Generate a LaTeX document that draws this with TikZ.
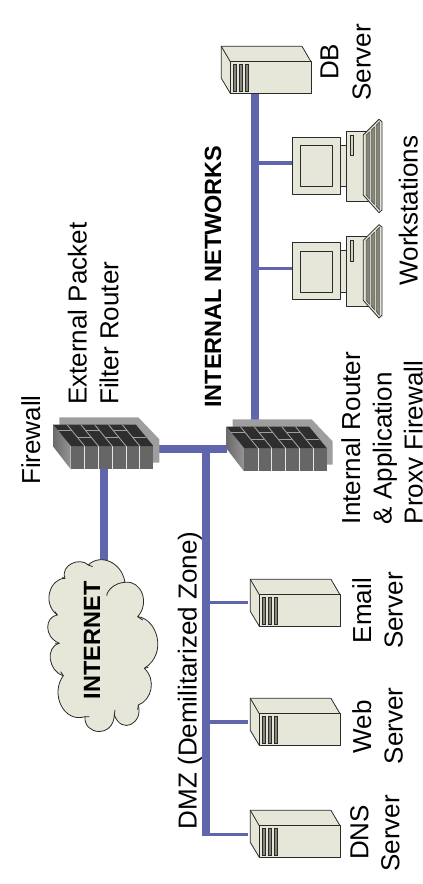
\documentclass[tikz,border=0pt]{standalone}
\usepackage{fontspec}
\setmainfont{Liberation Sans}
\definecolor{netblue}{HTML}{6066AE}
\definecolor{cream}{HTML}{E6E7D8}
\definecolor{edgec}{HTML}{2A2A2A}
\definecolor{slotc}{HTML}{85857A}
\tikzset{
 bus/.style={netblue,line width=7.6pt},
 drop/.style={netblue,line width=3.6pt},
 dev/.style={draw=edgec,fill=cream,line width=.8pt,line join=round},
 slotb/.style={draw=edgec,fill=slotc,line width=.5pt},
 lbl/.style={rotate=90,anchor=base west,inner sep=0pt,font=\fontsize{26}{26}\selectfont},
 blbl/.style={lbl,font=\fontsize{23.5}{25}\selectfont\bfseries},
 serverpic/.pic={
  \path[dev] (0,0) -- (80.7,0) -- (89.7,15.4) -- (89.7,47) -- (9,47) -- (0,32) -- cycle;
  \path[dev] (9,15.4) rectangle (89.7,47);
  \draw[edgec,line width=.8pt] (0,0) -- (9,15.4);
  \foreach \s in {12,18,24}{\path[slotb] (\s,18) rectangle (\s+2.6,45);}
 },
 workpic/.pic={
  \path[dev] (340.7,145.3) rectangle (346.7,186.7);
  \path[dev] (346.7,131) rectangle (368,201);
  \path[slotb,fill=cream!80!slotc] (350,135) rectangle (353.3,155.7);
  \path[dev] (363.3,135) -- (379,119.3) -- (382,121.7) -- (382,210) -- (379,212.7) -- (363.3,195) -- cycle;
  \path[slotb,line width=.4pt] (366,135.3) -- (369.5,131.8) -- (369.5,199) -- (366,195) -- cycle;
  \path[slotb,line width=.4pt] (371,130.3) -- (374.5,126.8) -- (374.5,204.5) -- (371,200.5) -- cycle;
  \path[slotb,line width=.4pt] (376,125.3) -- (379.5,121.8) -- (379.5,210) -- (376,206) -- cycle;
  \path[dev] (292.3,137.3) rectangle (340.7,194.3);
  \path[dev] (300,145.7) rectangle (332.7,186.7);
 },
 firepic/.pic={
  \fill[black!38] (59.3,417.3) -- (138.3,417.3) -- (159.3,439.3) -- (159.3,462.7) -- (150,462.7) -- (59.3,430) -- cycle;
  \shade[left color=black!58,right color=black!42] (53.3,424.7) -- (70.7,446) -- (70.7,469.3) -- (53.3,446.7) -- cycle;
  \fill[black!60] (70.7,446) rectangle (153.3,469.3);
  \foreach \u in {84.7,98.3,112.2,126,139.7}{\draw[black!10,line width=1pt] (\u,446) -- (\u,469.3);}
  \begin{scope}[shift={(53.3,424.7)},xslant=-.82]
   \fill[black!82] (0,0) rectangle (82.6,21.3);
   \foreach \u in {13.8,27.6,41.4,55.2,69}{\draw[black!38,line width=.9pt] (\u,0) -- (\u,21.3);}
   \foreach \a/\b in {0/13.8,27.6/41.4,55.2/69}{\draw[black!38,line width=.9pt] (\a,5.5) -- (\b,5.5);}
   \foreach \a/\b in {13.8/27.6,41.4/55.2,69/82.6}{\draw[black!38,line width=.9pt] (\a,12.5) -- (\b,12.5);}
  \end{scope}
 },
}
\begin{document}
\begin{tikzpicture}[x=1pt,y=-1pt]
\useasboundingbox (0,0) rectangle (423,884);
\clip (0,0) rectangle (423,884);
% connection points
\coordinate (cloudtop) at (104,560);
\coordinate (fwAbot) at (104,469);
\coordinate (fwAright) at (159.3,449);
\coordinate (fwBleft) at (227,449);
\coordinate (dmzTop) at (205.7,449);
\coordinate (dmzBot) at (205.7,835.5);
\coordinate (dmzDns) at (205.7,834.3);
\coordinate (dmzWeb) at (205.7,722);
\coordinate (dmzMail) at (205.7,602.3);
\coordinate (dnsPort) at (248.3,834.3);
\coordinate (webPort) at (248.3,722);
\coordinate (mailPort) at (248.3,602.3);
\coordinate (fwBtop) at (255,420);
\coordinate (dbBot) at (255,93);
\coordinate (intA) at (255,162.7);
\coordinate (intB) at (255,268.3);
\coordinate (wsA) at (292.3,162.7);
\coordinate (wsB) at (292.3,268.3);
% connectors
\draw[bus] (cloudtop) -- (fwAbot);
\draw[bus] (fwAright) -- (fwBleft);
\draw[bus] (dmzTop) -- (dmzBot);
\draw[drop] (dmzDns) -- (dnsPort);
\draw[drop] (dmzWeb) -- (webPort);
\draw[drop] (dmzMail) -- (mailPort);
\draw[bus] (fwBtop) -- (dbBot);
\draw[drop] (intA) -- (wsA);
\draw[drop] (intB) -- (wsB);
% cloud
\begin{scope}[shift={(0,430)},scale=1/3]
 \path[dev,line width=.8pt]
  (195,445) .. controls (180,405) and (240,380) .. (265,405)
  .. controls (300,370) and (365,395) .. (375,457)
  .. controls (425,450) and (450,520) .. (413,560)
  .. controls (470,565) and (505,670) .. (433,715)
  .. controls (470,750) and (455,810) .. (415,825)
  .. controls (430,880) and (365,915) .. (343,855)
  .. controls (340,925) and (250,915) .. (255,860)
  .. controls (190,880) and (150,790) .. (190,737)
  .. controls (145,725) and (135,650) .. (178,640)
  .. controls (130,620) and (135,560) .. (172,555)
  .. controls (125,520) and (150,445) .. (195,445) -- cycle;
 \draw[edgec,line width=.8pt]
  (320,497) .. controls (322,480) and (345,458) .. (375,457)
  (413,560) -- (428,570)
  (433,715) -- (445,712)
  (415,825) -- (413,840)
  (343,855) -- (345,840)
  (255,860) -- (268,860)
  (190,737) -- (182,725)
  (178,640) -- (165,640)
  (172,555) -- (165,545)
  (195,445) -- (187,442)
  (265,405) -- (278,410);
\end{scope}
% devices
\pic {firepic};
\pic at (173.3,2) {firepic};
\pic at (250.3,810.3) {serverpic};
\pic at (250.3,698.3) {serverpic};
\pic at (250.3,579.3) {serverpic};
\pic at (221.3,46.3) {serverpic};
\pic {workpic};
\pic at (0,105.3) {workpic};
% labels
\node[lbl] (tFirewall) at (40,485) {Firewall};
\node[lbl] (tExt) at (86.7,405) {External Packet};
\node[lbl] (tFilter) at (118.3,405) {Filter Router};
\node[blbl] (tInet) at (221,408) {INTERNAL NETWORKS};
\node[blbl] (tCloud) at (100,699.3) {INTERNET};
\node[lbl] (tDmz) at (196.7,829.3) {DMZ (Demilitarized Zone)};
\node[lbl] (tIr) at (360,524.3) {Internal Router};
\node[lbl] (tApp) at (391.7,524.3) {\& Application};
\node[lbl] (tProxy) at (422.7,524.3) {Proxy Firewall};
\node[lbl] (tEmail) at (371,643.3) {Email};
\node[lbl] (tEmailS) at (402.7,649) {Server};
\node[lbl] (tWeb) at (371,753.3) {Web};
\node[lbl] (tWebS) at (402.7,764.3) {Server};
\node[lbl] (tDns) at (368.3,860) {DNS};
\node[lbl] (tDnsS) at (399.3,871.7) {Server};
\node[lbl] (tDb) at (338.3,80) {DB};
\node[lbl] (tDbS) at (370.7,100.7) {Server};
\node[lbl] (tWs) at (417.7,285.7) {Workstations};
\end{tikzpicture}
\end{document}
